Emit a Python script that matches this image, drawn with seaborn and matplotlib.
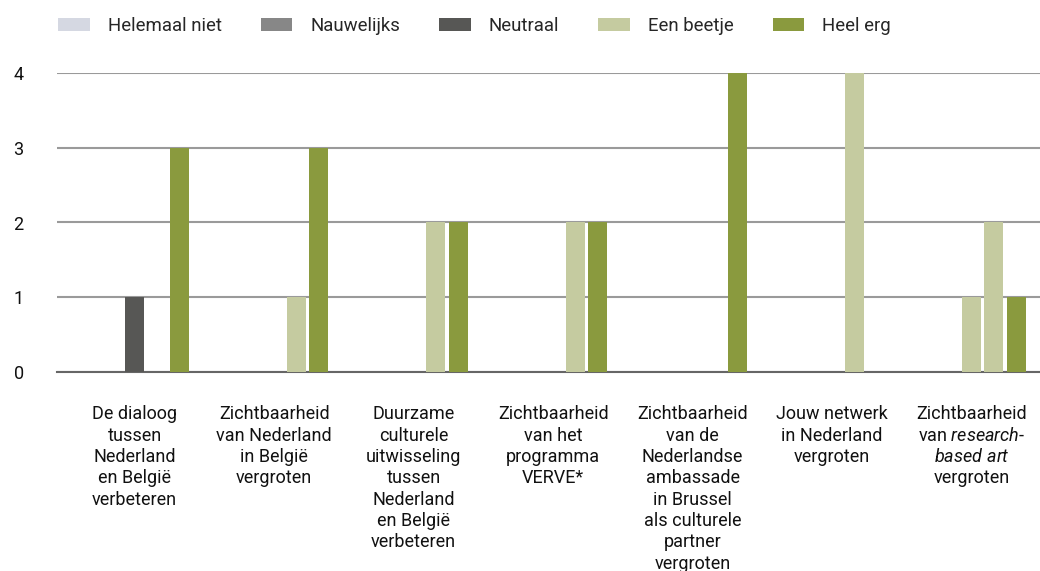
import matplotlib
matplotlib.use("Agg")
import matplotlib.pyplot as plt
from matplotlib.patches import Patch
import seaborn as sns
import pandas as pd

categories = [
    "De dialoog\ntussen\nNederland\nen België\nverbeteren",
    "Zichtbaarheid\nvan Nederland\nin België\nvergroten",
    "Duurzame\nculturele\nuitwisseling\ntussen\nNederland\nen België\nverbeteren",
    "Zichtbaarheid\nvan het\nprogramma\nVERVE*",
    "Zichtbaarheid\nvan de\nNederlandse\nambassade\nin Brussel\nals culturele\npartner\nvergroten",
    "Jouw netwerk\nin Nederland\nvergroten",
    "Zichtbaarheid\nvan $\\it{research}$-\n$\\it{based\\ art}$\nvergroten",
]
series = ["Helemaal niet", "Nauwelijks", "Neutraal", "Een beetje", "Heel erg"]
helemaal_niet = [0, 0, 0, 0, 0, 0, 0]
nauwelijks = [0, 0, 0, 0, 0, 0, 0]
neutraal = [1, 0, 0, 0, 0, 0, 1]
een_beetje = [0, 1, 2, 2, 0, 4, 2]
heel_erg = [3, 3, 2, 2, 4, 0, 1]
colors = ["#d5d8e2", "#878787", "#575755", "#c5cba0", "#8a9a3e"]

values = [helemaal_niet, nauwelijks, neutraal, een_beetje, heel_erg]
rows = []
for s, vals in zip(series, values):
    for c, v in zip(categories, vals):
        rows.append({"cat": c, "serie": s, "val": v})
df = pd.DataFrame(rows)

sns.set_theme(style="white")
plt.rcParams["font.family"] = ["Roboto", "DejaVu Sans"]
plt.rcParams["mathtext.fontset"] = "custom"
plt.rcParams["mathtext.rm"] = "Roboto"
plt.rcParams["mathtext.it"] = "Roboto:italic"

fig = plt.figure(figsize=(10.4, 5.71), dpi=100)
ax = fig.add_axes([57 / 1040, (571 - 372) / 571, (1040 - 57) / 1040, 299 / 571])

sns.barplot(data=df, x="cat", y="val", hue="serie", order=categories,
            hue_order=series, palette=colors, width=0.8, gap=0.15,
            ax=ax, legend=False, zorder=3, saturation=1,
            linewidth=0, edgecolor="none")

# the last group's neutral bar is drawn in the light green in the reference
ax.containers[2].patches[6].set_facecolor(colors[3])

ax.set_ylim(0, 4)
ax.set_xlim(-0.556, 6.49)
ax.set_yticks([0, 1, 2, 3, 4])
ax.yaxis.grid(True, color="#9a9a9a", linewidth=1.5, zorder=0)
ax.set_axisbelow(True)
for side in ["top", "right", "left"]:
    ax.spines[side].set_visible(False)
ax.spines["bottom"].set_color("#666666")
ax.spines["bottom"].set_linewidth(1.5)
ax.set_xlabel("")
ax.set_ylabel("")
ax.tick_params(axis="y", length=0, pad=24, labelsize=13, labelcolor="#111111")
ax.tick_params(axis="x", length=0, pad=24, labelsize=13, labelcolor="#111111")
for lbl in ax.get_yticklabels():
    lbl.set_horizontalalignment("right")
for lbl in ax.get_xticklabels():
    lbl.set_linespacing(1.24)

handles = [Patch(facecolor=c, edgecolor="none") for c in colors]
fig.legend(handles, series, loc="center left", bbox_to_anchor=(0.056, 1 - 26 / 571),
           ncol=5, frameon=False, fontsize=13.4, handlelength=1.7,
           handleheight=0.64, handletextpad=0.96, columnspacing=2.1,
           borderaxespad=0.0, borderpad=0.0)

fig.savefig("out.png", dpi=100)
